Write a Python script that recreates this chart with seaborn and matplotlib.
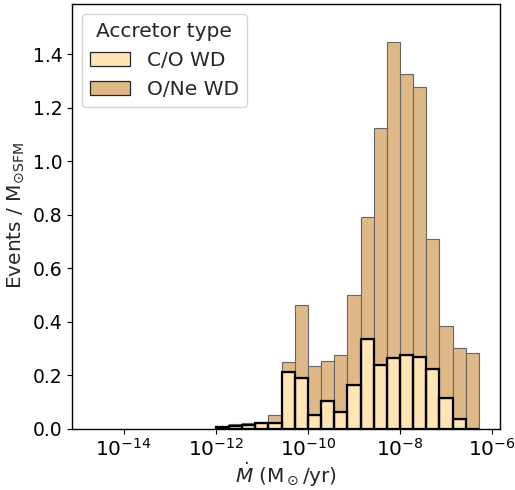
import numpy as np
import pandas as pd
import matplotlib
matplotlib.use("Agg")
import matplotlib.pyplot as plt
import seaborn as sns

# ---- data ----
# log10 bin edges: 20 bins of 2/7 dex starting at 1e-12
first_edge_log = -12.0
bin_width_log = 2.0 / 7.0
n_bins = 20
types = ["C/O WD", "O/Ne WD"]
co_heights = [0.004, 0.010, 0.012, 0.019, 0.022, 0.212, 0.189, 0.052, 0.101, 0.063,
              0.164, 0.336, 0.238, 0.264, 0.276, 0.266, 0.221, 0.114, 0.034, 0.000]
one_heights = [0.005, 0.006, 0.009, 0.006, 0.027, 0.035, 0.274, 0.181, 0.150, 0.211,
               0.334, 0.453, 0.886, 1.182, 1.049, 1.012, 0.487, 0.270, 0.267, 0.283]
colors = {"C/O WD": "moccasin", "O/Ne WD": "burlywood"}

edges_log = first_edge_log + bin_width_log * np.arange(n_bins + 1)
centers = 10 ** (edges_log[:-1] + bin_width_log / 2)
bin_list = [float(e) for e in edges_log]

df = pd.DataFrame({
    "mdot": np.concatenate([centers, centers]),
    "w": np.concatenate([co_heights, one_heights]),
    "type": [types[0]] * n_bins + [types[1]] * n_bins,
})

sns.set_style("ticks")
plt.rcParams["font.family"] = ["DejaVu Sans"]
fig = plt.figure(figsize=(5.15, 4.90), dpi=100)
ax = fig.add_axes([72 / 515, 1 - 428.5 / 490, (499.5 - 72) / 515, (428.5 - 3.5) / 490])

sns.histplot(data=df, x="mdot", weights="w", hue="type",
             hue_order=["O/Ne WD", "C/O WD"], multiple="stack",
             bins=bin_list, log_scale=True, palette=colors, alpha=1,
             edgecolor="0.4", linewidth=0.8, ax=ax)
# dark outline of the C/O layer
sns.histplot(data=df[df["type"] == "C/O WD"], x="mdot", weights="w",
             bins=bin_list, log_scale=True, fill=False, element="bars",
             color="black", linewidth=1.6, ax=ax, legend=False)

ax.set_xlim(10 ** -15.12, 10 ** -5.84)
ax.set_ylim(0, 1.589)
ax.set_xticks([1e-14, 1e-12, 1e-10, 1e-8, 1e-6])
ax.minorticks_off()
ax.tick_params(axis="both", length=3.5, width=0.8, colors="black")
ax.tick_params(axis="x", labelsize=14.5)
ax.tick_params(axis="y", labelsize=13.5)
for s in ax.spines.values():
    s.set_visible(True)
    s.set_linewidth(1.0)
    s.set_color("black")

ax.set_xlabel(r"$\dot{M}$ (M$_\odot$/yr)", fontsize=14.5, labelpad=0)
ax.set_ylabel(r"Events / M$_{\odot \rm SFM}$", fontsize=14.5, labelpad=5)

# legend with C/O listed first
old = ax.get_legend()
handles = old.legend_handles
labels = [t.get_text() for t in old.get_texts()]
old.remove()
order = [labels.index("C/O WD"), labels.index("O/Ne WD")]
for h in handles:
    h.set_edgecolor("0.15")
    h.set_linewidth(0.9)
ax.legend([handles[i] for i in order], [labels[i] for i in order],
          title="Accretor type", loc="upper left", fontsize=14.5, title_fontsize=14.5,
          frameon=True)

fig.savefig("out.png", dpi=100)
